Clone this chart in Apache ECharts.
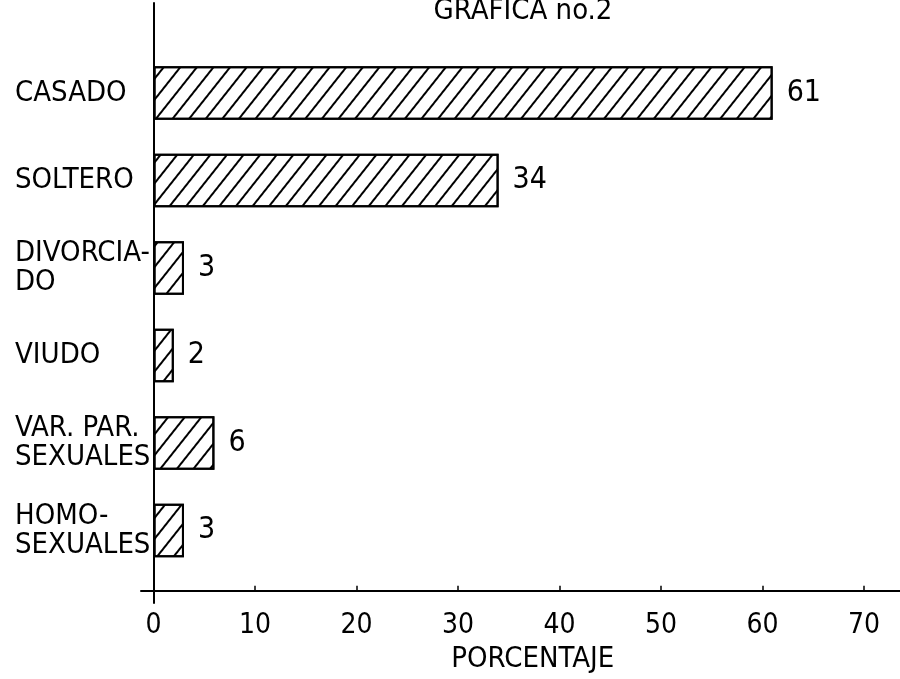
<!DOCTYPE html>
<html>
<head>
<meta charset="utf-8">
<script src="https://cdn.jsdelivr.net/npm/echarts@6/dist/echarts.min.js"></script>
<style>
html,body{margin:0;padding:0;background:#fff;}
#chart{width:900px;height:679px;}
</style>
</head>
<body>
<div id="chart"></div>
<script>
// Data
var categories = ['CASADO', 'SOLTERO', 'DIVORCIA-\nDO', 'VIUDO', 'VAR. PAR.\nSEXUALES', 'HOMO-\nSEXUALES'];
var percentages = [61, 34, 3, 2, 6, 3];
var xTickLabels = [0, 10, 20, 30, 40, 50, 60, 70];
var chartTitle = 'GRAFICA no.2';
var xAxisName = 'PORCENTAJE';

var FONT = "'DejaVu Sans Condensed', 'Liberation Sans Narrow', 'DejaVu Sans', sans-serif";

var chart = echarts.init(document.getElementById('chart'), null, {renderer: 'canvas'});
chart.setOption({
  backgroundColor: '#fff',
  animation: false,
  aria: {enabled: true, decal: {show: true}},
  title: {
    text: chartTitle,
    left: 518, top: -8,
    textAlign: 'center',
    textStyle: {fontFamily: FONT, fontSize: 29, fontWeight: 'normal', color: '#000'}
  },
  grid: [
    {left: 153.5, top: 49.25, width: 710.5, height: 525, containLabel: false},
    {left: 141, right: 0, top: 3, bottom: 76, containLabel: false}
  ],
  xAxis: [
    {
      type: 'value', gridIndex: 0,
      min: xTickLabels[0], max: xTickLabels[xTickLabels.length - 1], interval: 10,
      offset: 16.5,
      axisLine: {show: false},
      axisTick: {show: true, inside: true, length: 5, lineStyle: {color: '#000', width: 1.5}},
      splitLine: {show: false},
      axisLabel: {fontFamily: FONT, fontSize: 28, color: '#000', margin: 21},
      name: xAxisName, nameLocation: 'middle', nameGap: 52,
      nameTextStyle: {fontFamily: FONT, fontSize: 29, color: '#000', padding: [0, 0, 0, 48]}
    },
    {
      type: 'value', gridIndex: 1, min: -12.5, max: 746.5,
      axisLine: {show: true, onZero: true, lineStyle: {color: '#000', width: 2}},
      axisTick: {show: false}, axisLabel: {show: false}, splitLine: {show: false}
    }
  ],
  yAxis: [
    {
      type: 'category', gridIndex: 0, data: categories, inverse: true,
      axisLine: {show: false}, axisTick: {show: false}, splitLine: {show: false},
      axisLabel: {fontFamily: FONT, fontSize: 29, color: '#000', align: 'left', margin: 138.5, lineHeight: 29}
    },
    {
      type: 'value', gridIndex: 1, min: -12, max: 588,
      axisLine: {show: true, onZero: true, lineStyle: {color: '#000', width: 2}},
      axisTick: {show: false}, axisLabel: {show: false}, splitLine: {show: false}
    }
  ],
  series: [{
    type: 'bar',
    xAxisIndex: 0, yAxisIndex: 0,
    data: percentages,
    barCategoryGap: '39%',
    itemStyle: {
      color: '#fff',
      borderColor: '#000',
      borderWidth: 2,
      decal: {
        symbol: 'rect',
        symbolSize: 1,
        color: '#000',
        dashArrayX: [1, 0],
        dashArrayY: [1.6, 10.4],
        rotation: -0.9
      }
    },
    label: {
      show: true, position: 'right', distance: 14,
      fontFamily: FONT, fontSize: 30, color: '#000'
    }
  }]
});
</script>
</body>
</html>
